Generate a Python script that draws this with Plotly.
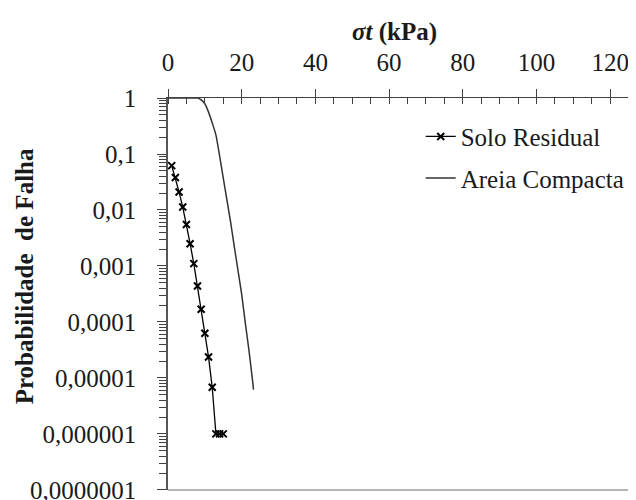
import plotly.graph_objects as go

# Solo Residual
solo_x = [1, 2, 3, 4, 5, 6, 7, 8, 9, 10, 11, 12, 13, 14, 15]
solo_y = [0.062, 0.038, 0.021, 0.0113, 0.0055, 0.0025, 0.0011, 0.00044,
          0.000169, 0.000063, 0.0000237, 0.0000068, 0.000001, 0.000001, 0.000001]

# Areia Compacta
areia_x = [0, 1, 2, 3, 4, 5, 6, 7, 8, 9, 10, 11, 12, 13, 14, 15, 16, 17, 18,
           19, 20, 21, 22, 23, 23.2]
areia_y = [1, 1, 1, 1, 1, 1, 1, 1, 1, 0.93, 0.79, 0.56, 0.36, 0.22, 0.093,
           0.037, 0.015, 0.006, 0.0022, 0.00083, 0.00031, 0.000093, 0.00003,
           0.0000083, 0.0000062]

x_ticks = [0, 20, 40, 60, 80, 100, 120]
y_ticks = [1e-7, 1e-6, 1e-5, 1e-4, 1e-3, 1e-2, 1e-1, 1]
y_ticktext = ["0,0000001", "0,000001", "0,00001", "0,0001", "0,001", "0,01", "0,1", "1"]
y_minor = [m * d for d in y_ticks[:-1] for m in range(2, 10)]

FONT = "Liberation Serif"
AX = "#404040"
TXT = "#1a1a1a"
FS = 25
Y_RANGE = [-7.002, 0.0005]

fig = go.Figure()
fig.add_trace(go.Scatter(
    x=solo_x, y=solo_y, mode="lines+markers", name="Solo Residual",
    line=dict(color="#000000", width=1.3),
    marker=dict(symbol="x-thin", size=7, color="#000000",
                line=dict(width=2, color="#000000")),
    legendgroup="a"))
fig.add_trace(go.Scatter(
    x=areia_x, y=areia_y, mode="lines", name="Areia Compacta",
    line=dict(color="#333333", width=1.5, shape="spline", smoothing=0.5),
    legendgroup="b"))

fig.update_layout(
    width=628, height=500,
    margin=dict(l=160, r=0, t=90, b=18),
    paper_bgcolor="white", plot_bgcolor="white",
    font=dict(family=FONT, size=FS, color=TXT),
    showlegend=True,
    legend=dict(x=0.54, y=0.96, xanchor="left", yanchor="top",
                bgcolor="rgba(0,0,0,0)", font=dict(family=FONT, size=FS),
                tracegroupgap=6, itemwidth=30),
    xaxis=dict(side="top", range=[0, 127], tickvals=x_ticks,
               ticks="outside", ticklen=8, tickcolor=AX, tickwidth=1,
               showline=True, linecolor=AX, linewidth=1.3,
               showgrid=False, zeroline=False,
               minor=dict(ticks="inside", dtick=5, tick0=0, ticklen=6,
                          tickcolor=AX, showgrid=False),
               tickfont=dict(family=FONT, size=FS, color=TXT),
               ticklabelstandoff=8, anchor="y"),
    xaxis2=dict(overlaying="x", side="top", range=[0, 127], tickvals=x_ticks,
                ticks="inside", ticklen=8, tickcolor=AX, showticklabels=False,
                showline=False, showgrid=False, zeroline=False, anchor="y"),
    yaxis=dict(type="log", range=Y_RANGE, tickvals=y_ticks, ticktext=y_ticktext,
               ticks="outside", ticklen=9, tickcolor=AX, tickwidth=1,
               showline=True, linecolor="#555555", linewidth=1.5,
               showgrid=False, zeroline=False,
               minor=dict(ticks="outside", tickvals=y_minor, ticklen=7,
                          tickcolor=AX, showgrid=False),
               tickfont=dict(family=FONT, size=FS, color=TXT),
               ticklabelstandoff=16, ticklabeloverflow="allow", anchor="x"),
    yaxis2=dict(type="log", overlaying="y", side="left", range=Y_RANGE,
                tickvals=y_ticks, ticks="inside", ticklen=9, tickcolor=AX,
                showticklabels=False, showline=False, showgrid=False,
                zeroline=False, anchor="x"),
    shapes=[dict(type="line", xref="paper", yref="paper", x0=0, x1=1, y0=0, y1=0,
                 line=dict(color="#b5b5b5", width=2), layer="below")],
    annotations=[
        dict(text="<b><i>σt</i> (kPa)</b>", xref="paper", yref="paper",
             x=0.485, y=1.0, yshift=66, xanchor="center", yanchor="middle",
             showarrow=False, font=dict(family=FONT, size=FS, color=TXT)),
        dict(text="<b>Probabilidade  de Falha</b>", xref="paper", yref="paper",
             x=0, xshift=-144, y=0.545, textangle=-90,
             xanchor="center", yanchor="middle",
             showarrow=False, font=dict(family=FONT, size=FS, color=TXT)),
    ],
)

fig.write_html("out.html")
